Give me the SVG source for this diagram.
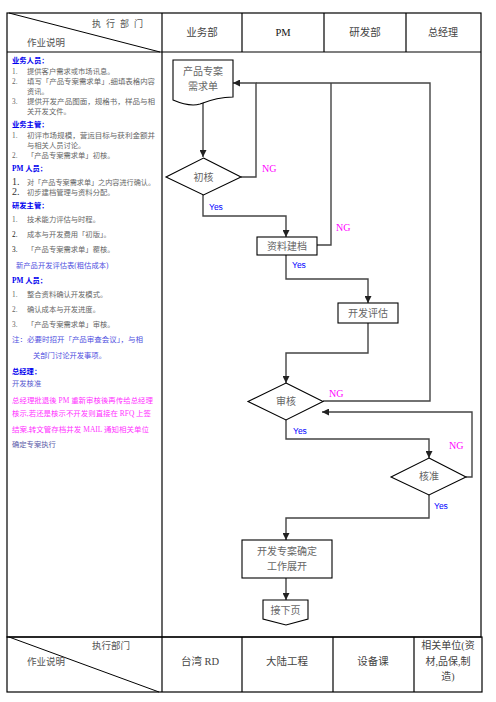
<svg xmlns="http://www.w3.org/2000/svg" width="496" height="702" viewBox="0 0 496 702">
<defs>
<marker id="ah" viewBox="0 0 10 10" refX="10" refY="5" markerWidth="7" markerHeight="7" markerUnits="userSpaceOnUse" orient="auto">
<path d="M0,0 L10,5 L0,10 Z" fill="#222"/>
</marker>
<style>
text{font-family:"Liberation Serif","Noto Sans CJK SC",serif;}
.grid{stroke:#000;stroke-width:1.2;fill:none;}
.hd{font-size:10.5px;fill:#444;text-anchor:middle;}
.t{font-size:7.3px;fill:#666;}
.n{font-size:7.3px;fill:#666;}
.nb{font-size:10px;fill:#333;}
.h{font-size:7.3px;fill:#0000ee;font-weight:bold;}
.pu{font-size:7.3px;fill:#4f4fe0;}
.mg{font-size:7.3px;fill:#ff33ff;}
.node{fill:#fff;stroke:#000;stroke-width:1.1;}
.lbl{font-size:10px;fill:#666;text-anchor:middle;}
.yes{font-size:8.5px;fill:#0000ff;font-family:"Liberation Sans","Noto Sans CJK SC",sans-serif;}
.ng{font-size:10px;fill:#ff00ff;}
.c{fill:none;stroke:#444;stroke-width:1.4;}
</style>
</defs>
<rect width="496" height="702" fill="#fff"/>

<g id="table">
<rect class="grid" x="7" y="13" width="474" height="624"/>
<line class="grid" x1="7" y1="52" x2="481" y2="52"/>
<line class="grid" x1="162" y1="13" x2="162" y2="637"/>
<line class="grid" x1="242" y1="13" x2="242" y2="52"/>
<line class="grid" x1="324" y1="13" x2="324" y2="52"/>
<line class="grid" x1="406" y1="13" x2="406" y2="52"/>
<line x1="9" y1="13" x2="160" y2="52" stroke="#000" stroke-width="1"/>
<text x="92" y="27" style="font-size:9px;fill:#555;letter-spacing:5px">执行部门</text>
<text x="27" y="46" style="font-size:9.5px;fill:#555">作业说明</text>
<text class="hd" x="202" y="36">业务部</text>
<text class="hd" x="283" y="36" style="fill:#111">PM</text>
<text class="hd" x="365" y="36">研发部</text>
<text class="hd" x="443" y="36" style="font-size:10px">总经理</text>

<rect class="grid" x="7" y="637" width="475" height="55"/>
<line class="grid" x1="162" y1="637" x2="162" y2="692"/>
<line class="grid" x1="242" y1="637" x2="242" y2="692"/>
<line class="grid" x1="333" y1="637" x2="333" y2="692"/>
<line class="grid" x1="414" y1="637" x2="414" y2="692"/>
<line x1="9" y1="637" x2="159" y2="692" stroke="#000" stroke-width="1"/>
<text x="92" y="649" style="font-size:9.5px;fill:#555">执行部门</text>
<text x="27" y="665" style="font-size:9.5px;fill:#555">作业说明</text>
<text class="hd" x="200" y="665">台湾 RD</text>
<text class="hd" x="287" y="665">大陆工程</text>
<text class="hd" x="373" y="665">设备课</text>
<text class="hd" x="448" y="649" style="font-size:10px">相关单位(资</text>
<text class="hd" x="448" y="665" style="font-size:10px">材,品保,制</text>
<text class="hd" x="448" y="680" style="font-size:10px">造)</text>
</g>

<g id="notes">
<text class="h" x="12" y="62.5">业务人员：</text>
<text class="n" x="12" y="73.5">1.</text><text class="t" x="27" y="73.5">提供客户需求或市场讯息。</text>
<text class="n" x="12" y="83.5">2.</text><text class="t" x="27" y="83.5" textLength="128" lengthAdjust="spacingAndGlyphs">填写「产品专案需求单」,细填表格内容</text>
<text class="t" x="27" y="93.5">资讯。</text>
<text class="n" x="12" y="103.5">3.</text><text class="t" x="27" y="103.5" textLength="128" lengthAdjust="spacingAndGlyphs">提供开发产品图面，规格书，样品与相</text>
<text class="t" x="27" y="113.5">关开发文件。</text>
<text class="h" x="12" y="126.5">业务主管：</text>
<text class="n" x="12" y="137.5">1.</text><text class="t" x="27" y="137.5" textLength="128" lengthAdjust="spacingAndGlyphs">初评市场规模，营运目标与获利金额并</text>
<text class="t" x="27" y="147.5">与相关人员讨论。</text>
<text class="n" x="12" y="157.5">2.</text><text class="t" x="27" y="157.5">「产品专案需求单」初核。</text>
<text class="h" x="12" y="170.5">PM 人员：</text>
<text class="nb" x="12" y="185">1.</text><text class="t" x="27" y="184.5" textLength="128" lengthAdjust="spacingAndGlyphs">对「产品专案需求单」之内容进行确认。</text>
<text class="nb" x="12" y="195">2.</text><text class="t" x="27" y="194.5">初步建档管理与资料分配。</text>
<text class="h" x="12" y="207.5">研发主管：</text>
<text class="n" x="12" y="221.5">1.</text><text class="t" x="27" y="221.5">技术能力评估与时程。</text>
<text class="n" x="12" y="236.5" style="fill:#222">2.</text><text class="t" x="27" y="236.5">成本与开发费用「初版」。</text>
<text class="n" x="12" y="251.5" style="fill:#222">3.</text><text class="t" x="27" y="251.5">「产品专案需求单」覆核。</text>
<text class="pu" x="16" y="267.5">新产品开发评估表(粗估成本)</text>
<text class="h" x="12" y="282.5">PM 人员：</text>
<text class="n" x="12" y="296.5">1.</text><text class="t" x="27" y="296.5">整合资料确认开发模式。</text>
<text class="n" x="12" y="311.5">2.</text><text class="t" x="27" y="311.5">确认成本与开发进度。</text>
<text class="n" x="12" y="326.5">3.</text><text class="t" x="27" y="326.5">「产品专案需求单」审核。</text>
<text class="pu" x="12" y="341.5" textLength="131" lengthAdjust="spacingAndGlyphs">注：必要时招开「产品审查会议」，与相</text>
<text class="pu" x="33" y="357.5">关部门讨论开发事项。</text>
<text class="h" x="12" y="373.5">总经理：</text>
<text class="pu" x="12" y="385.5" style="fill:#5a5ad0">开发核准</text>
<text class="mg" x="12" y="402.5" textLength="141" lengthAdjust="spacingAndGlyphs">总经理批退後 PM 重新审核後再传给总经理</text>
<text class="mg" x="12" y="415.5" textLength="139" lengthAdjust="spacingAndGlyphs">核示,若还是核示不开发则直接在 RFQ 上签</text>
<text class="mg" x="12" y="431.5" textLength="137" lengthAdjust="spacingAndGlyphs">结案,转文管存档并发 MAIL 通知相关单位</text>
<text class="pu" x="12" y="446.5" style="fill:#5a5aa8">确定专案执行</text>
</g>

<g id="connectors">
<path class="c" d="M203,101 V157" marker-end="url(#ah)"/>
<path class="c" d="M241,177 H256 V83 H233" marker-end="url(#ah)"/>
<path class="c" d="M317,245 H331 V83"/>
<path class="c" d="M323,401 H430 V83 H256"/>
<path class="c" d="M203,195 V216 H286 V237" marker-end="url(#ah)"/>
<path class="c" d="M286,255 V279 H368 V303" marker-end="url(#ah)"/>
<path class="c" d="M368,323 V353 H286 V383" marker-end="url(#ah)"/>
<path class="c" d="M286,420 V439 H429 V458" marker-end="url(#ah)"/>
<path class="c" d="M466,477 H472 V412 H322" marker-end="url(#ah)"/>
<path class="c" d="M429,495 V518 H286 V540" marker-end="url(#ah)"/>
<path class="c" d="M286,578 V600" marker-end="url(#ah)"/>
<text class="ng" x="262" y="172">NG</text>
<text class="ng" x="336" y="231">NG</text>
<text class="ng" x="329" y="397">NG</text>
<text class="ng" x="449" y="449">NG</text>
<text class="yes" x="209" y="210">Yes</text>
<text class="yes" x="292" y="268">Yes</text>
<text class="yes" x="293" y="434">Yes</text>
<text class="yes" x="434" y="509">Yes</text>
</g>

<g id="n_doc">
<path class="node" d="M173,60 H233 V97 C220,97 210,100 200,104 C190,107 180,103 173,100 Z"/>
<text class="lbl" x="203" y="75">产品专案</text>
<text class="lbl" x="203" y="90">需求单</text>
</g>
<g id="n_chuhe">
<polygon class="node" points="203.5,158 241,177 203.5,195 166,177"/>
<text class="lbl" x="203.5" y="181">初核</text>
</g>
<g id="n_ziliao">
<rect class="node" x="257" y="237" width="60" height="18"/>
<text class="lbl" x="287" y="250">资料建档</text>
</g>
<g id="n_pinggu">
<rect class="node" x="338" y="303" width="60" height="20"/>
<text class="lbl" x="368" y="317">开发评估</text>
</g>
<g id="n_shenhe">
<polygon class="node" points="286,383 323,401.5 286,420 248,401.5"/>
<text class="lbl" x="286" y="405">审核</text>
</g>
<g id="n_hezhun">
<polygon class="node" points="429,458 466,477 429,495 391,477"/>
<text class="lbl" x="429" y="480">核准</text>
</g>
<g id="n_kaifa">
<rect class="node" x="242" y="540" width="90" height="38"/>
<text class="lbl" x="287" y="555">开发专案确定</text>
<text class="lbl" x="287" y="570">工作展开</text>
</g>
<g id="n_next">
<polygon class="node" points="263,600 308,600 308,619 286,625 263,619"/>
<text class="lbl" x="285.5" y="614">接下页</text>
</g>
</svg>
